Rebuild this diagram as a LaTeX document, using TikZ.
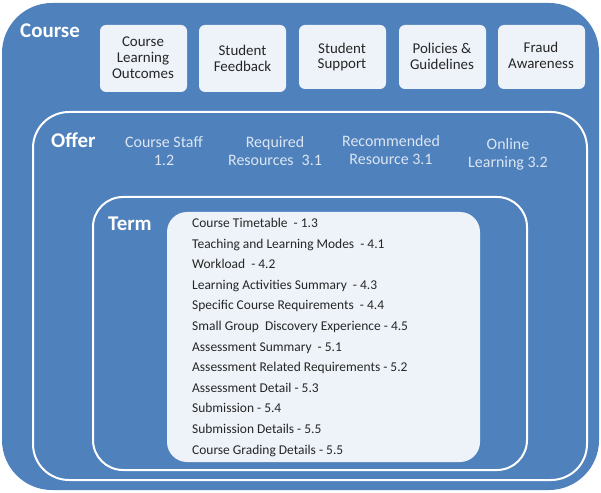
\documentclass[tikz,border=0pt]{standalone}
\usepackage{fontspec}
\setmainfont{Carlito}
\definecolor{cblue}{HTML}{4F81BD}
\definecolor{clight}{HTML}{EEF3FA}
\definecolor{coffer}{HTML}{DCE6F2}
\definecolor{cdark}{HTML}{262626}
\begin{document}
\begin{tikzpicture}[x=1bp,y=-1bp,
  title/.style={text=white,font=\fontsize{21}{24}\selectfont\bfseries,inner sep=0pt},
  toptext/.style={text=cdark,align=center,font=\fontsize{15}{16}\selectfont,inner sep=0pt},
  offertext/.style={text=coffer,align=center,font=\fontsize{16}{18}\selectfont,inner sep=0pt},
  listtext/.style={text=cdark,anchor=base west,font=\fontsize{13.5}{14}\selectfont,inner sep=0pt},
  frame/.style={draw=white,line width=2bp}]
\useasboundingbox (0,0) rectangle (601,493);
\fill[white] (0,0) rectangle (601,493);
% Course box
\fill[cblue,rounded corners=50bp] (2,3) rectangle (599,490);
\node[title,anchor=west] (course) at (20,31) {Course};
% top boxes
\foreach \i/\xa/\yb in {1/100/92,2/199/92,3/299/89,4/399/89,5/498/89}{
  \fill[clight,rounded corners=6bp] (\xa,25) rectangle ({\xa+87},\yb);
}
\node[toptext] (clo) at (143,58) {Course\\Learning\\Outcomes};
\node[toptext] (sf) at (242.5,58) {Student\\Feedback};
\node[toptext] (ss) at (342,57) {Student\\Support};
\node[toptext] (pg) at (442,56) {Policies \&\\Guidelines};
\node[toptext] (fa) at (541,55) {Fraud\\Awareness};
% Offer box
\draw[frame,rounded corners=36bp] (33,112) rectangle (587,480);
\node[title,anchor=west] (offer) at (51,140) {Offer};
\node[offertext] (staff) at (164,151) {Course Staff\\1.2};
\node[offertext] (req) at (275,151) {Required\\Resources\enspace3.1};
\node[offertext] (rec) at (391,150) {Recommended\\Resource 3.1};
\node[offertext] (onl) at (508,154) {Online\\Learning 3.2};
% Term box
\draw[frame,rounded corners=30bp] (93,197) rectangle (527,470);
\node[title,anchor=west] (term) at (108,224) {Term};
\fill[clight,rounded corners=20bp] (167,212) rectangle (480,462);
\foreach \t [count=\k from 0] in {
  {Course Timetable~ - 1.3},
  {Teaching and Learning Modes~ - 4.1},
  {Workload~ - 4.2},
  {Learning Activities Summary~ - 4.3},
  {Specific Course Requirements~ - 4.4},
  {Small Group~ Discovery Experience - 4.5},
  {Assessment Summary~ - 5.1},
  {Assessment Related Requirements - 5.2},
  {Assessment Detail - 5.3},
  {Submission - 5.4},
  {Submission Details - 5.5},
  {Course Grading Details - 5.5}}{
  \node[listtext] (t\k) at (192,{227.5+20.6*\k}) {\t};
}
\end{tikzpicture}
\end{document}
